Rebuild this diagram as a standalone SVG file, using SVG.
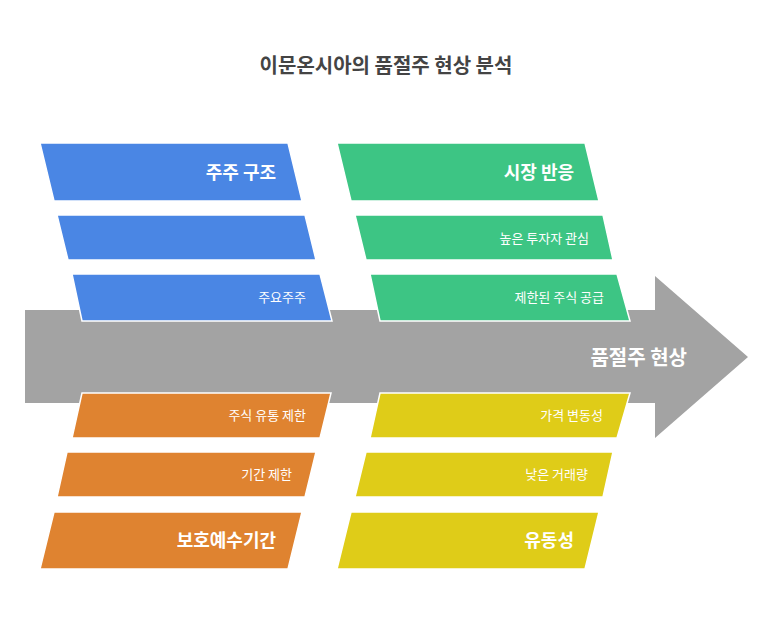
<svg xmlns="http://www.w3.org/2000/svg" width="773" height="618" viewBox="0 0 773 618">
<style>
text{font-family:"Noto Sans CJK KR","Noto Sans",sans-serif;fill:#fff;text-anchor:end}
.s{font-size:13px}.b{font-size:18px;font-weight:bold}
.p{stroke:#fff;stroke-width:1.5}
.bl{fill:#4A86E4}.gr{fill:#3DC584}.or{fill:#DF8330}.ye{fill:#DFCC18}
</style>
<rect width="773" height="618" fill="#fff"/>
<text x="386" y="73" style="font-size:20px;font-weight:bold;fill:#444;text-anchor:middle">이문온시아의 품절주 현상 분석</text>
<g id="spine"><polygon points="25,310 655,310 655,276 748,357 655,438 655,403 25,403" fill="#A3A3A3"/>
<text x="687" y="365" style="font-size:20px;font-weight:bold">품절주 현상</text></g>
<g id="blue1"><polygon class="p bl" points="40,143 288,143 302,201 54,201"/><text class="b" x="276" y="179">주주 구조</text></g>
<g id="blue2"><polygon class="p bl" points="57,215 305,215 316,260 68,260"/></g>
<g id="blue3"><polygon class="p bl" points="72,274 320,274 332,321 82,321"/><text class="s" x="306" y="302">주요주주</text></g>
<g id="green1"><polygon class="p gr" points="337,143 585,143 599,201 351,201"/><text class="b" x="574" y="179">시장 반응</text></g>
<g id="green2"><polygon class="p gr" points="355,215 603,215 613,260 366,260"/><text class="s" x="589" y="243">높은 투자자 관심</text></g>
<g id="green3"><polygon class="p gr" points="370,274 617,274 630,321 380,321"/><text class="s" x="604" y="302">제한된 주식 공급</text></g>
<g id="orange1"><polygon class="p or" points="82,393 331,393 320,438 72,438"/><text class="s" x="306" y="420">주식 유통 제한</text></g>
<g id="orange2"><polygon class="p or" points="67,452 316,452 305,497 57,497"/><text class="s" x="292" y="479">기간 제한</text></g>
<g id="orange3"><polygon class="p or" points="54,512 302,512 288,569 40,569"/><text class="b" x="276" y="547">보호예수기간</text></g>
<g id="yellow1"><polygon class="p ye" points="380,393 630,393 617,438 370,438"/><text class="s" x="603" y="420">가격 변동성</text></g>
<g id="yellow2"><polygon class="p ye" points="366,452 613,452 603,497 355,497"/><text class="s" x="588" y="479">낮은 거래량</text></g>
<g id="yellow3"><polygon class="p ye" points="351,512 599,512 585,569 337,569"/><text class="b" x="574" y="547">유동성</text></g>
<g id="connectors"/>
</svg>
